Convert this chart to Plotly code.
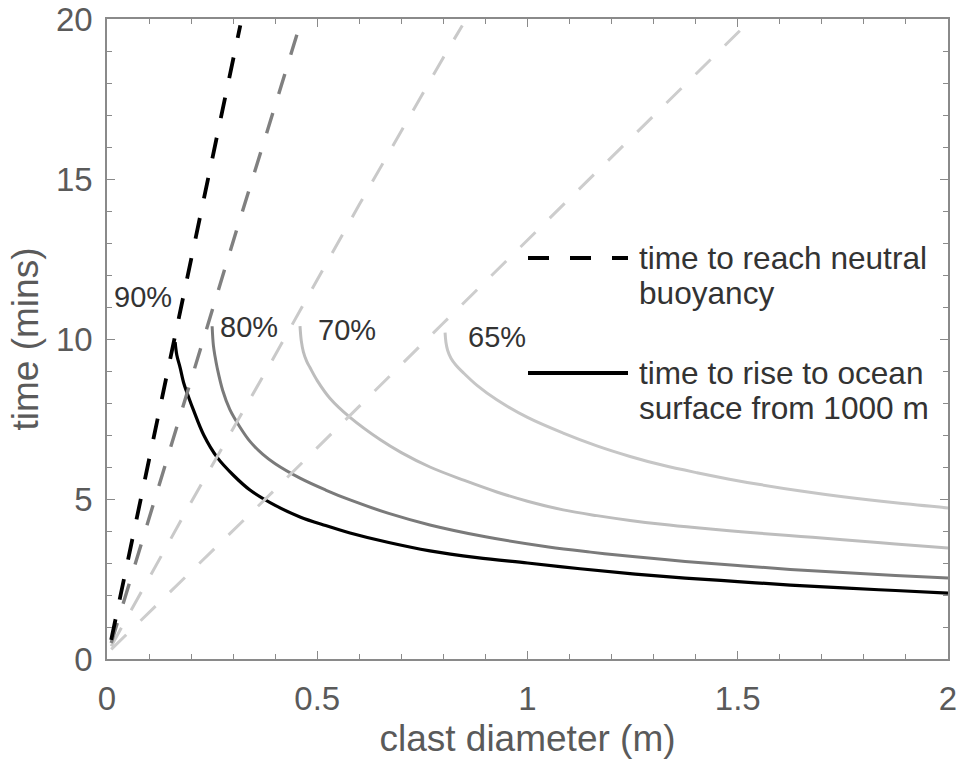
import plotly.graph_objects as go

# Vesicularity cases (labels drawn next to the curves)
case_labels = ["90%", "80%", "70%", "65%"]

# Time to rise to the ocean surface from 1000 m (solid curves)
rise_d_90 = [0.162, 0.166, 0.174, 0.183, 0.195, 0.205, 0.23, 0.262, 0.3, 0.34, 0.4, 0.459, 0.52, 0.578, 0.67, 0.768,
             0.88, 1.0, 1.125, 1.25, 1.375, 1.5, 1.625, 1.75, 1.875, 2.0]
rise_t_90 = [9.9, 9.5, 9.1, 8.6, 8.15, 7.8, 7.0, 6.3, 5.75, 5.28, 4.8, 4.44, 4.17, 3.94, 3.64, 3.38,
             3.17, 3.0, 2.82, 2.66, 2.53, 2.42, 2.31, 2.22, 2.14, 2.06]

rise_d_80 = [0.25, 0.253, 0.257, 0.262, 0.275, 0.292, 0.316, 0.34, 0.37, 0.4, 0.459, 0.52, 0.578, 0.67, 0.768,
             0.9, 1.05, 1.15, 1.25, 1.375, 1.5, 1.625, 1.75, 1.875, 2.0]
rise_t_80 = [10.4, 9.8, 9.45, 9.1, 8.4, 7.8, 7.25, 6.8, 6.4, 6.1, 5.65, 5.28, 4.97, 4.55, 4.19,
             3.82, 3.5, 3.34, 3.2, 3.05, 2.92, 2.8, 2.7, 2.61, 2.53]

rise_d_70 = [0.459, 0.462, 0.467, 0.475, 0.483, 0.5, 0.53, 0.578, 0.65, 0.7, 0.768, 0.85, 0.927, 1.0, 1.085,
             1.165, 1.244, 1.32, 1.403, 1.48, 1.553, 1.65, 1.75, 1.875, 2.0]
rise_t_70 = [10.4, 9.95, 9.6, 9.3, 9.1, 8.7, 8.15, 7.55, 6.85, 6.45, 6.0, 5.58, 5.22, 4.93, 4.66,
             4.48, 4.33, 4.21, 4.1, 4.01, 3.93, 3.83, 3.725, 3.595, 3.47]

rise_d_65 = [0.804, 0.806, 0.81, 0.818, 0.83, 0.847, 0.88, 0.927, 1.0, 1.085, 1.165, 1.244, 1.32, 1.403,
             1.48, 1.553, 1.65, 1.75, 1.875, 2.0]
rise_t_65 = [10.2, 9.9, 9.65, 9.4, 9.18, 8.95, 8.55, 8.1, 7.55, 7.06, 6.66, 6.33, 6.06, 5.82,
             5.62, 5.45, 5.25, 5.07, 4.88, 4.72]

# Time to reach neutral buoyancy (dashed lines)
neut_d_90 = [0.01, 0.05, 0.1, 0.15, 0.2, 0.25, 0.3, 0.317]
neut_t_90 = [0.6, 3.1, 6.3, 9.4, 12.5, 15.6, 18.7, 19.8]

neut_d_80 = [0.01, 0.1, 0.2, 0.3, 0.4, 0.463]
neut_t_80 = [0.5, 4.4, 8.75, 13.05, 17.3, 20.0]

neut_d_70 = [0.01, 0.2, 0.4, 0.6, 0.8, 0.845]
neut_t_70 = [0.4, 4.9, 9.5, 14.2, 18.8, 19.8]

neut_d_65 = [0.01, 0.4, 0.8, 1.2, 1.51]
neut_t_65 = [0.3, 5.3, 10.5, 15.7, 19.7]

# Label anchor positions (diameter, time)
label_d = [0.086, 0.338, 0.571, 0.927]
label_t = [11.3, 10.38, 10.28, 10.06]

x_ticks = [0, 0.5, 1, 1.5, 2]
x_tick_text = ["0", "0.5", "1", "1.5", "2"]
y_ticks = [0, 5, 10, 15, 20]

FONT = "Liberation Sans, Arial, Helvetica, sans-serif"
DASH = "21px,20px"

solid_styles = [("#000000", 3.2), ("#7a7a7a", 3.0), ("#bdbdbd", 3.0), ("#c6c6c6", 3.0)]
dash_styles = [("#000000", 3.8), ("#808080", 3.4), ("#c9c9c9", 3.0), ("#cdcdcd", 3.0)]

rise = [(rise_d_90, rise_t_90), (rise_d_80, rise_t_80), (rise_d_70, rise_t_70), (rise_d_65, rise_t_65)]
neut = [(neut_d_90, neut_t_90), (neut_d_80, neut_t_80), (neut_d_70, neut_t_70), (neut_d_65, neut_t_65)]

fig = go.Figure()

# solid rise-time curves, lightest first so the black one sits on top
for (d, t), (col, w) in list(zip(rise, solid_styles))[::-1]:
    fig.add_trace(go.Scatter(x=d, y=t, mode="lines", line=dict(color=col, width=w, shape="spline", smoothing=1.0),
                             showlegend=False, hoverinfo="skip"))

# dashed neutral-buoyancy lines drawn over the solid curves
for (d, t), (col, w) in list(zip(neut, dash_styles))[::-1]:
    fig.add_trace(go.Scatter(x=d, y=t, mode="lines", line=dict(color=col, width=w, dash=DASH),
                             showlegend=False, hoverinfo="skip"))

annotations = []
for lab, d, t in zip(case_labels, label_d, label_t):
    annotations.append(dict(x=d, y=t, xref="x", yref="y", text=lab, showarrow=False,
                            font=dict(family=FONT, size=29, color="#333333"),
                            xanchor="center", yanchor="middle"))

# hand-built key: sample line + two text lines per entry
key_x0, key_x1, key_tx = 0.5006, 0.6195, 0.6300
key_rows = [
    (0.6266, 0.5719, dict(color="#000000", width=3.8, dash="21px,21px"), "time to reach neutral", "buoyancy"),
    (0.4469, 0.3922, dict(color="#000000", width=3.8), "time to rise to ocean", "surface from 1000 m"),
]
shapes = []
for y1, y2, ln, txt1, txt2 in key_rows:
    shapes.append(dict(type="line", xref="paper", yref="paper", x0=key_x0, x1=key_x1, y0=y1, y1=y1, line=ln))
    for yy, tx in ((y1, txt1), (y2, txt2)):
        annotations.append(dict(x=key_tx, y=yy, xref="paper", yref="paper", text=tx, showarrow=False,
                                font=dict(family=FONT, size=31.6, color="#333333"),
                                xanchor="left", yanchor="middle"))

axis_common = dict(
    showline=True, linecolor="#8a8a8a", linewidth=1.5, mirror="ticks",
    ticks="inside", ticklen=8, tickwidth=1.2, tickcolor="#8a8a8a",
    showgrid=False, zeroline=False, automargin=False,
    tickfont=dict(family=FONT, size=33, color="#5a5a5a"),
)

fig.update_layout(
    width=958, height=759,
    margin=dict(l=107, r=10, t=19, b=100),
    paper_bgcolor="white", plot_bgcolor="white",
    annotations=annotations, shapes=shapes,
    xaxis=dict(range=[0, 2], tickvals=x_ticks, ticktext=x_tick_text,
               minor=dict(dtick=0.1, ticks="inside", ticklen=5, tickcolor="#8a8a8a", tickwidth=1),
               title=dict(text="clast diameter (m)", font=dict(family=FONT, size=37, color="#5a5a5a"), standoff=12),
               ticklabelstandoff=10,
               **axis_common),
    yaxis=dict(range=[0, 20], tickvals=y_ticks,
               minor=dict(dtick=1, ticks="inside", ticklen=5, tickcolor="#8a8a8a", tickwidth=1),
               title=dict(text="time (mins)", font=dict(family=FONT, size=37, color="#5a5a5a"), standoff=6),
               ticklabelstandoff=6,
               **axis_common),
)

fig.write_html("out.html")
